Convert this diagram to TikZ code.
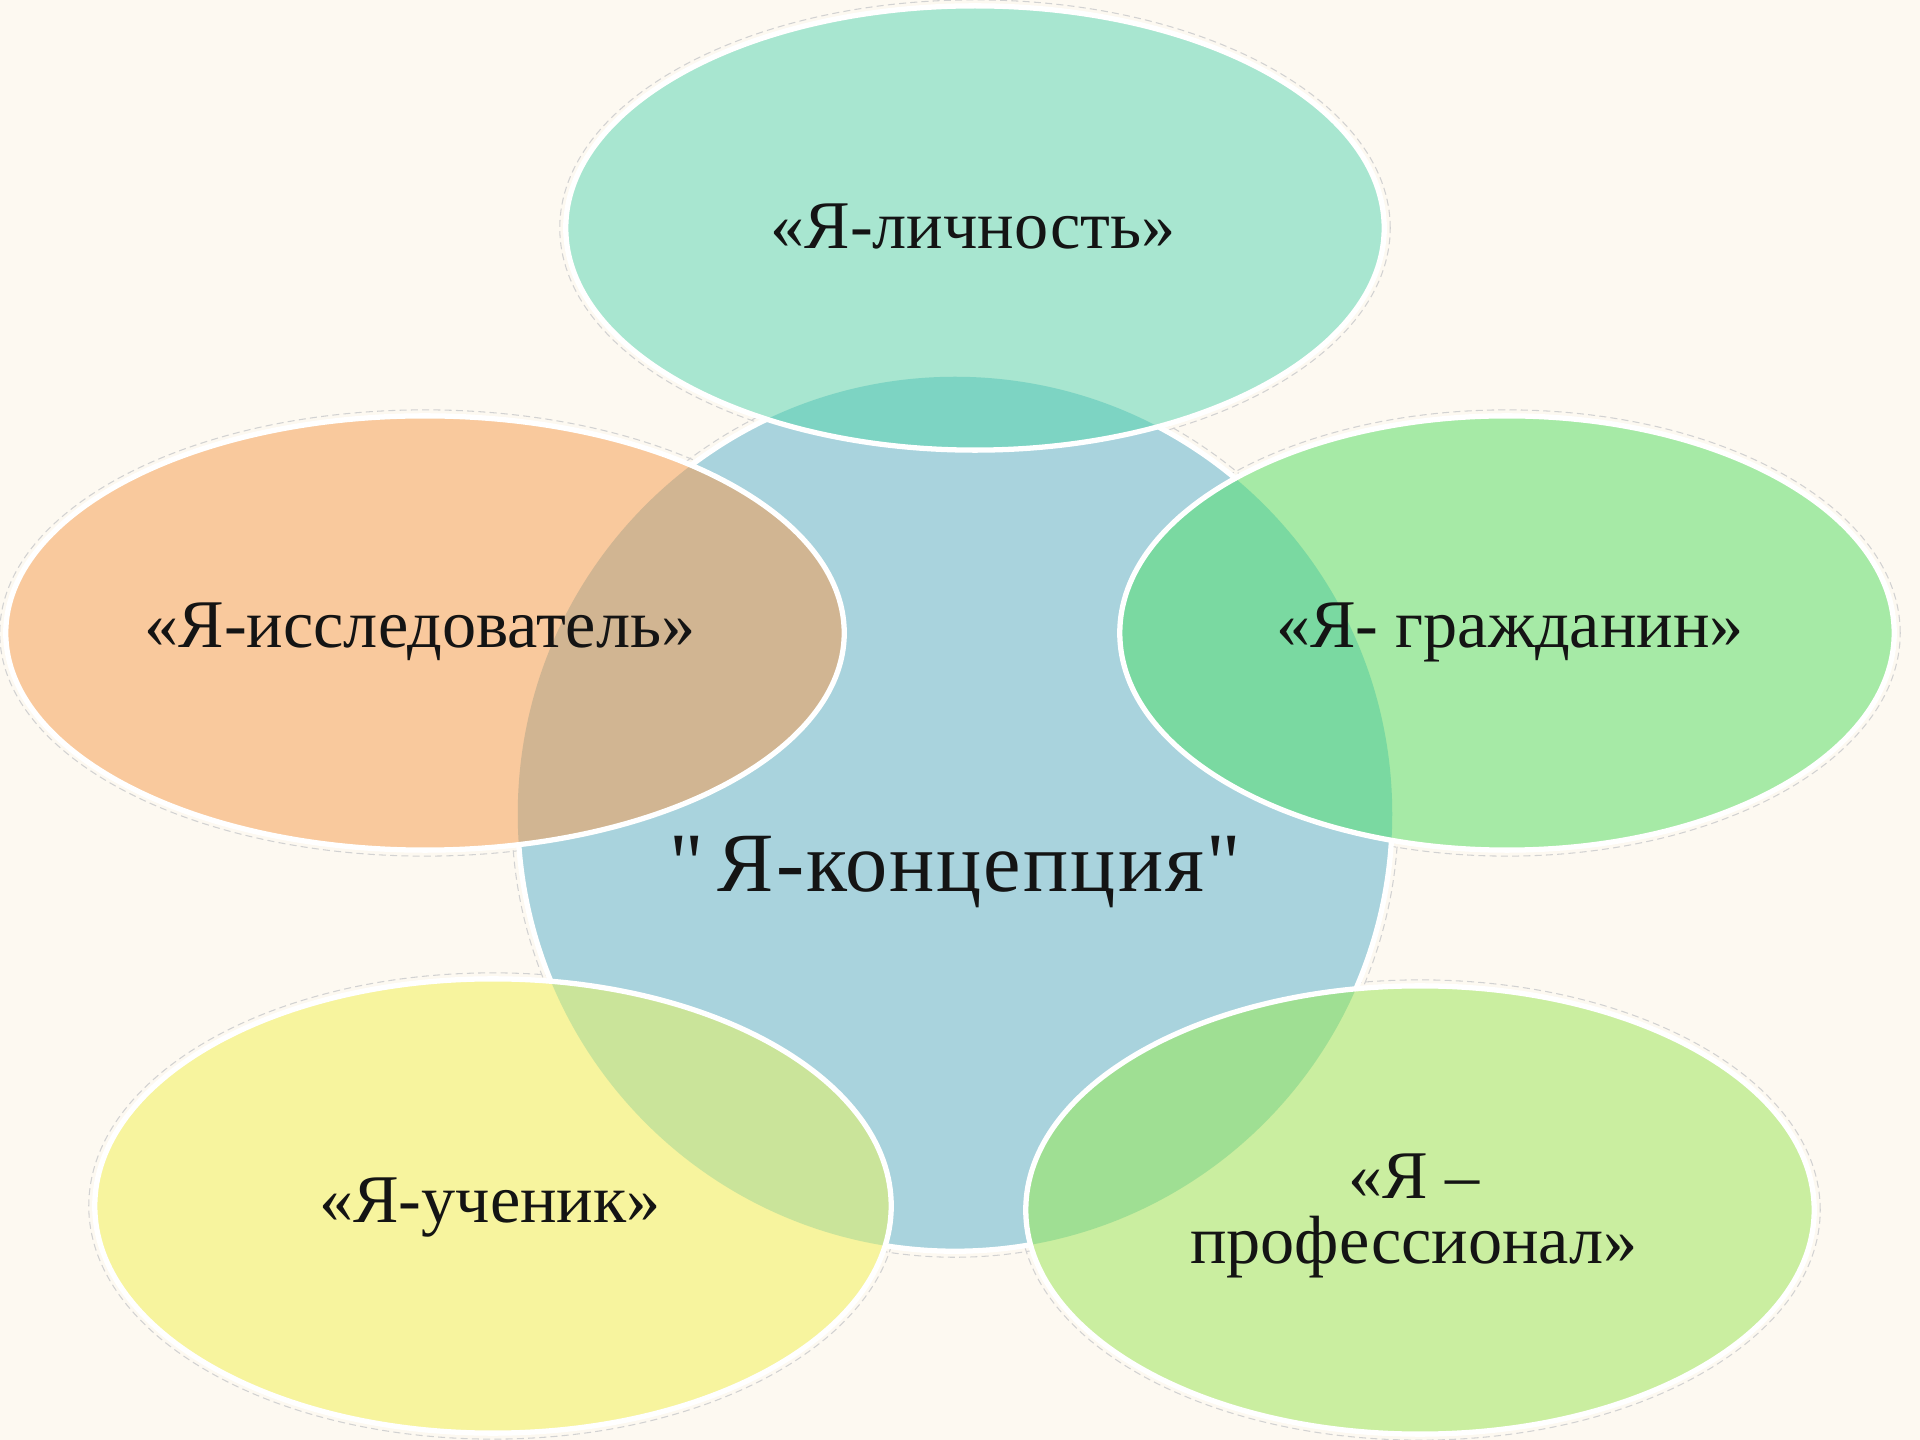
\documentclass[tikz,border=0pt]{standalone}
\usepackage{fontspec}
\setmainfont{Liberation Serif}
\newfontfamily\conceptfont[LetterSpace=2.5]{Liberation Serif}
\definecolor{bg}{HTML}{FDF9F1}
\definecolor{cC}{HTML}{A9D3DD}
\definecolor{cT}{HTML}{A8E6D0}
\definecolor{oT}{HTML}{7DD4C3}
\definecolor{cL}{HTML}{F9C99D}
\definecolor{oL}{HTML}{D1B592}
\definecolor{cR}{HTML}{A6EAA6}
\definecolor{oR}{HTML}{7AD9A1}
\definecolor{cBL}{HTML}{F7F49E}
\definecolor{oBL}{HTML}{CAE49A}
\definecolor{cBR}{HTML}{CAEEA0}
\definecolor{oBR}{HTML}{9FDF93}
\tikzset{
  lbl/.style={font=\fontsize{19.4}{18.6}\selectfont, text=black!92, align=center, inner sep=0pt},
  rim/.style={draw=white, line width=1.5pt},
  ghost/.style={draw=gray!35, line width=0.3pt, dash pattern=on 2pt off 1.2pt},
}
\begin{document}
\begin{tikzpicture}[x=0.01cm,y=-0.01cm]
\useasboundingbox (0,0) rectangle (1920,1440);
\fill[bg] (0,0) rectangle (1920,1440);
% faint outer outlines
\draw[ghost] (955,814) circle [radius=4.43cm];
\foreach \cx/\cy/\rx/\ry in {975/228/4.09/2.22, 425/633/4.19/2.17, 1507/633/3.87/2.17, 493/1206/3.98/2.27, 1420/1210/3.94/2.24}{
  \draw[ghost] (\cx,\cy) ellipse [x radius=\rx cm+0.06cm, y radius=\ry cm+0.06cm];
}
% central circle
\fill[cC] (955,814) circle [radius=4.37cm];
\draw[rim] (955,814) circle [radius=4.37cm];
% outer ellipses with overlaps
\foreach \cx/\cy/\rx/\ry/\col/\ocol in {975/228/4.09/2.22/cT/oT, 425/633/4.19/2.17/cL/oL, 1507/633/3.87/2.17/cR/oR, 493/1206/3.98/2.27/cBL/oBL, 1420/1210/3.94/2.24/cBR/oBR}{
  \fill[\col] (\cx,\cy) ellipse [x radius=\rx cm, y radius=\ry cm];
  \begin{scope}
    \clip (\cx,\cy) ellipse [x radius=\rx cm, y radius=\ry cm];
    \fill[\ocol] (955,814) circle [radius=4.37cm];
  \end{scope}
  \draw[rim] (\cx,\cy) ellipse [x radius=\rx cm, y radius=\ry cm];
}
% labels
\node[lbl] (tLich) at (973,227) {«Я-личность»};
\node[lbl] (tIssl) at (420,632) {«Я-исследователь»};
\node[lbl] (tGrazh) at (1510,632) {«Я- гражданин»};
\node[lbl] (tUch) at (490,1208) {«Я-ученик»};
\node[lbl] (tProf) at (1414,1216) {«Я –\\профессионал»};
\node[font=\conceptfont\fontsize{24}{28}\selectfont, text=black!92, inner sep=0pt] (tCon) at (955,872) {"\,Я-концепция"};
\end{tikzpicture}
\end{document}
